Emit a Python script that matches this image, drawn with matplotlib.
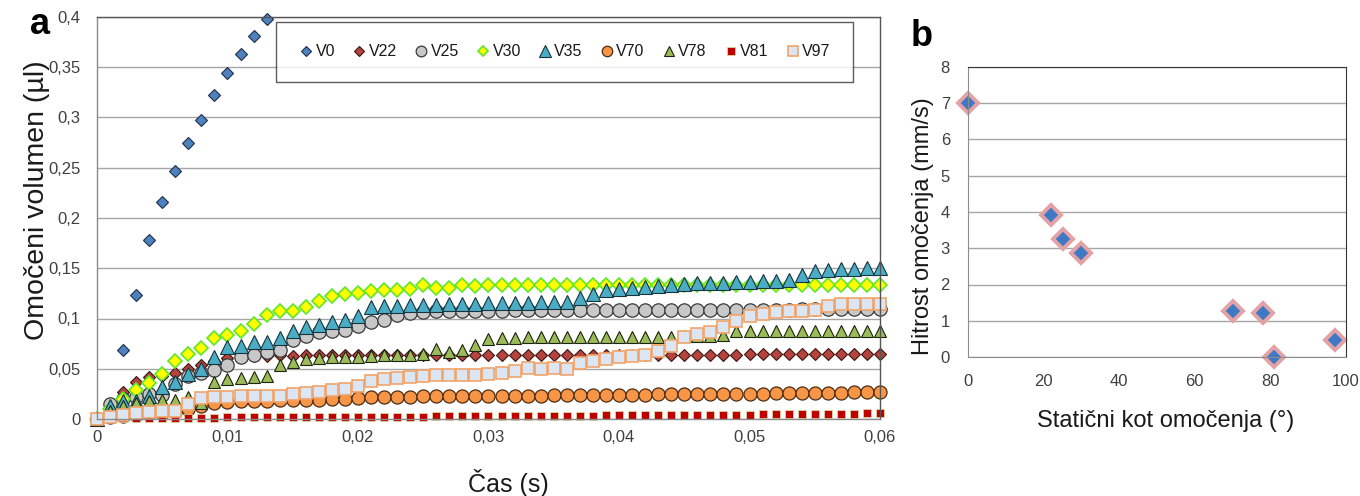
import numpy as np
import matplotlib
matplotlib.use("Agg")
import matplotlib.pyplot as plt
from matplotlib.ticker import FuncFormatter

plt.rcParams['font.family'] = ['Liberation Sans', 'DejaVu Sans']

# ---------------- data: panel a ----------------
time_s = np.arange(61) / 1000.0  # sampling grid, 1 ms steps

V0 = [0, 0.015, 0.069, 0.123, 0.178, 0.216, 0.247, 0.275, 0.298, 0.322, 0.344, 0.363, 0.381, 0.398]

V22 = [0, 0.015, 0.027, 0.037, 0.042, 0.043, 0.046, 0.050, 0.054, 0.058,
       0.061, 0.062, 0.063, 0.063, 0.064, 0.063, 0.064, 0.064, 0.064, 0.064,
       0.064, 0.064, 0.064, 0.064, 0.064, 0.064, 0.064, 0.064, 0.064, 0.064,
       0.064, 0.064, 0.064, 0.064, 0.064, 0.064, 0.064, 0.064, 0.064, 0.064,
       0.064, 0.064, 0.064, 0.064, 0.064, 0.064, 0.064, 0.064, 0.064, 0.064,
       0.065, 0.065, 0.065, 0.065, 0.065, 0.065, 0.065, 0.065, 0.065, 0.065, 0.065]

V25 = [0, 0.015, 0.020, 0.022, 0.025, 0.024, 0.035, 0.043, 0.046, 0.049,
       0.054, 0.062, 0.064, 0.067, 0.069, 0.079, 0.083, 0.087, 0.088, 0.089,
       0.093, 0.097, 0.099, 0.103, 0.105, 0.106, 0.107, 0.107, 0.107, 0.107,
       0.107, 0.107, 0.108, 0.108, 0.108, 0.108, 0.108, 0.108, 0.108, 0.108,
       0.108, 0.108, 0.108, 0.108, 0.108, 0.108, 0.108, 0.108, 0.108, 0.108,
       0.108, 0.108, 0.108, 0.108, 0.109, 0.109, 0.109, 0.109, 0.109, 0.109, 0.109]

V30 = [0, 0.010, 0.020, 0.029, 0.036, 0.045, 0.058, 0.065, 0.071, 0.081,
       0.084, 0.088, 0.095, 0.103, 0.107, 0.107, 0.111, 0.117, 0.122, 0.124,
       0.125, 0.127, 0.128, 0.128, 0.129, 0.133, 0.130, 0.130, 0.133, 0.132,
       0.133, 0.133, 0.133, 0.133, 0.133, 0.133, 0.133, 0.133, 0.133, 0.133,
       0.133, 0.133, 0.133, 0.133, 0.133, 0.133, 0.133, 0.133, 0.133, 0.133,
       0.133, 0.133, 0.133, 0.133, 0.133, 0.133, 0.133, 0.133, 0.133, 0.133, 0.133]

V35 = [0, 0.013, 0.018, 0.018, 0.023, 0.032, 0.037, 0.045, 0.050, 0.062,
       0.072, 0.073, 0.077, 0.077, 0.081, 0.088, 0.092, 0.094, 0.097, 0.099,
       0.102, 0.111, 0.112, 0.112, 0.113, 0.113, 0.113, 0.114, 0.114, 0.114,
       0.115, 0.115, 0.115, 0.115, 0.116, 0.116, 0.116, 0.120, 0.124, 0.128,
       0.129, 0.130, 0.131, 0.132, 0.133, 0.134, 0.135, 0.135, 0.135, 0.136,
       0.136, 0.137, 0.137, 0.138, 0.143, 0.147, 0.148, 0.149, 0.149, 0.150, 0.150]

V70 = [0, 0.002, 0.003, 0.004, 0.005, 0.006, 0.007, 0.010, 0.013, 0.016,
       0.017, 0.018, 0.018, 0.018, 0.019, 0.019, 0.019, 0.019, 0.020, 0.020,
       0.021, 0.022, 0.022, 0.022, 0.022, 0.023, 0.023, 0.023, 0.023, 0.023,
       0.023, 0.023, 0.023, 0.023, 0.023, 0.024, 0.024, 0.024, 0.024, 0.024,
       0.024, 0.024, 0.024, 0.025, 0.025, 0.025, 0.025, 0.025, 0.025, 0.025,
       0.025, 0.025, 0.026, 0.026, 0.026, 0.026, 0.026, 0.026, 0.027, 0.027, 0.027]

V78 = [0, 0.008, 0.013, 0.016, 0.018, 0.019, 0.019, 0.022, 0.016, 0.037,
       0.040, 0.041, 0.042, 0.043, 0.054, 0.057, 0.060, 0.061, 0.062, 0.062,
       0.062, 0.063, 0.064, 0.064, 0.064, 0.065, 0.070, 0.067, 0.069, 0.074,
       0.080, 0.081, 0.081, 0.082, 0.082, 0.082, 0.082, 0.082, 0.082, 0.082,
       0.082, 0.082, 0.082, 0.082, 0.082, 0.083, 0.083, 0.083, 0.084, 0.088,
       0.088, 0.088, 0.088, 0.088, 0.088, 0.088, 0.088, 0.088, 0.088, 0.088, 0.088]

V81 = [0, 0.0005, 0.001, 0.001, 0.001, 0.001, 0.001, 0.001, 0.001, 0.001,
       0.002, 0.002, 0.002, 0.002, 0.002, 0.002, 0.002, 0.002, 0.002, 0.002,
       0.002, 0.002, 0.002, 0.002, 0.002, 0.002, 0.003, 0.003, 0.003, 0.003,
       0.003, 0.003, 0.003, 0.003, 0.003, 0.003, 0.003, 0.003, 0.003, 0.004,
       0.004, 0.004, 0.004, 0.004, 0.004, 0.004, 0.004, 0.004, 0.004, 0.004,
       0.004, 0.005, 0.005, 0.005, 0.005, 0.005, 0.005, 0.005, 0.005, 0.006, 0.006]

V97 = [0, 0.002, 0.004, 0.006, 0.007, 0.008, 0.008, 0.015, 0.021, 0.022,
       0.022, 0.023, 0.023, 0.023, 0.023, 0.025, 0.026, 0.027, 0.029, 0.030,
       0.033, 0.038, 0.040, 0.041, 0.042, 0.043, 0.044, 0.044, 0.044, 0.044,
       0.045, 0.046, 0.048, 0.051, 0.050, 0.051, 0.050, 0.056, 0.058, 0.060,
       0.062, 0.063, 0.064, 0.068, 0.073, 0.082, 0.085, 0.087, 0.092, 0.098,
       0.102, 0.104, 0.106, 0.107, 0.107, 0.108, 0.112, 0.114, 0.114, 0.114, 0.114]

series_names = ['V0', 'V22', 'V25', 'V30', 'V35', 'V70', 'V78', 'V81', 'V97']
series_values = [V0, V22, V25, V30, V35, V70, V78, V81, V97]

# ---------------- data: panel b ----------------
static_angle = [0, 22, 25, 30, 70, 78, 81, 97]
wetting_speed = [7.0, 3.92, 3.25, 2.87, 1.27, 1.22, 0.0, 0.47]

# ---------------- styles ----------------
styles = {
    'V0':  dict(marker='D', ms=6.6, mfc='#4f81bd', mec='#1c2f4a', mew=0.8),
    'V22': dict(marker='D', ms=6.4, mfc='#b5443f', mec='#3a1412', mew=0.8),
    'V25': dict(marker='o', ms=9.6, mfc='#c8c8c8', mec='#3a3a3a', mew=0.9),
    'V30': dict(marker='D', ms=6.8, mfc='#ffff00', mec='#5fe62a', mew=1.2),
    'V35': dict(marker='^', ms=10.0, mfc='#4bacc6', mec='#17343c', mew=0.8),
    'V70': dict(marker='o', ms=9.4, mfc='#f79646', mec='#4d2a10', mew=0.9),
    'V78': dict(marker='^', ms=8.8, mfc='#9bbb59', mec='#1b240e', mew=0.8),
    'V81': dict(marker='s', ms=6.4, mfc='#c00000', mec='#d7e6a6', mew=0.5),
    'V97': dict(marker='s', ms=8.4, mfc='#dce6f2', mec='#f2a46a', mew=1.2),
}

fig = plt.figure(figsize=(13.6, 4.96), dpi=100)
W, H = 1360, 496

def fig_rect(x0, y0, x1, y1):
    return [x0 / W, 1 - y1 / H, (x1 - x0) / W, (y1 - y0) / H]

grid_col = '#a6a6a6'
tick_col = '#404040'

# ---------------- panel a ----------------
ax = fig.add_axes(fig_rect(97, 17, 880, 419))
for name, vals in zip(series_names, series_values):
    ax.plot(time_s[:len(vals)], vals, linestyle='none', label=name,
            clip_on=False, **styles[name])

ax.set_xlim(0, 0.06)
ax.set_ylim(0, 0.4)
ax.set_xticks(np.arange(0, 0.0601, 0.01))
ax.set_yticks(np.arange(0, 0.401, 0.05))

def comma_fmt(v, pos):
    s = ('%.2f' % v).rstrip('0').rstrip('.')
    if s == '' or float(s) == 0:
        return '0'
    return s.replace('.', ',')

ax.xaxis.set_major_formatter(FuncFormatter(comma_fmt))
ax.yaxis.set_major_formatter(FuncFormatter(comma_fmt))
ax.yaxis.grid(True, color=grid_col, linewidth=1.0)
ax.set_axisbelow(True)
ax.tick_params(axis='y', length=0, pad=12, labelsize=12, labelcolor=tick_col)
ax.tick_params(axis='x', length=0, pad=8, labelsize=12, labelcolor=tick_col)
for side in ['left', 'bottom']:
    ax.spines[side].set_color('#8c8c8c')
for side in ['top', 'right']:
    ax.spines[side].set_color('#555555')
for sp in ax.spines.values():
    sp.set_linewidth(1.0)

ax.set_ylabel('Omočeni volumen (µl)', fontsize=20.5, color='#1a1a1a')
ax.yaxis.set_label_coords(-0.06, 0.545)
ax.set_xlabel('Čas (s)', fontsize=18, color='#1a1a1a')
ax.xaxis.set_label_coords((508 - 97) / 783, -0.125)

leg = ax.legend(loc='upper right', bbox_to_anchor=((853 - 97) / 783, (419 - 22) / 402),
                ncol=9, fontsize=11.5, frameon=True, fancybox=False,
                borderpad=1.4, handletextpad=0.1, columnspacing=1.0,
                handlelength=1.0, borderaxespad=0, markerscale=0.8)
leg.get_frame().set_edgecolor('#333333')
leg.get_frame().set_linewidth(1.0)
for t in leg.get_texts():
    t.set_color('#1a1a1a')

fig.text(40 / W, 1 - 24 / H, 'a', fontsize=26, fontweight='bold', ha='center', va='center')

# ---------------- panel b ----------------
bx = fig.add_axes(fig_rect(968, 67, 1346, 357))
bx.plot(static_angle, wetting_speed, linestyle='none', marker='D', ms=10.5,
        mfc='#3f78c4', mec='#e3a2a6', mew=2.8, clip_on=False)
bx.set_xlim(0, 100)
bx.set_ylim(0, 8)
bx.set_xticks(range(0, 101, 20))
bx.set_yticks(range(0, 9))
bx.yaxis.grid(True, color=grid_col, linewidth=1.0)
bx.set_axisbelow(True)
bx.tick_params(axis='y', length=0, pad=13, labelsize=12, labelcolor=tick_col)
bx.tick_params(axis='x', length=0, pad=12, labelsize=12, labelcolor=tick_col)
for side in ['left', 'bottom']:
    bx.spines[side].set_color('#8c8c8c')
for side in ['top', 'right']:
    bx.spines[side].set_color('#333333')

bx.set_ylabel('Hitrost omočenja (mm/s)', fontsize=17, color='#1a1a1a')
bx.yaxis.set_label_coords((934 - 968) / 378, 0.452)
bx.set_xlabel('Statični kot omočenja (°)', fontsize=17, color='#1a1a1a')
bx.xaxis.set_label_coords((1166 - 968) / 378, (357 - 410) / 290)

fig.text(922 / W, 1 - 36 / H, 'b', fontsize=26, fontweight='bold', ha='center', va='center')

fig.savefig('out.png', dpi=100)
